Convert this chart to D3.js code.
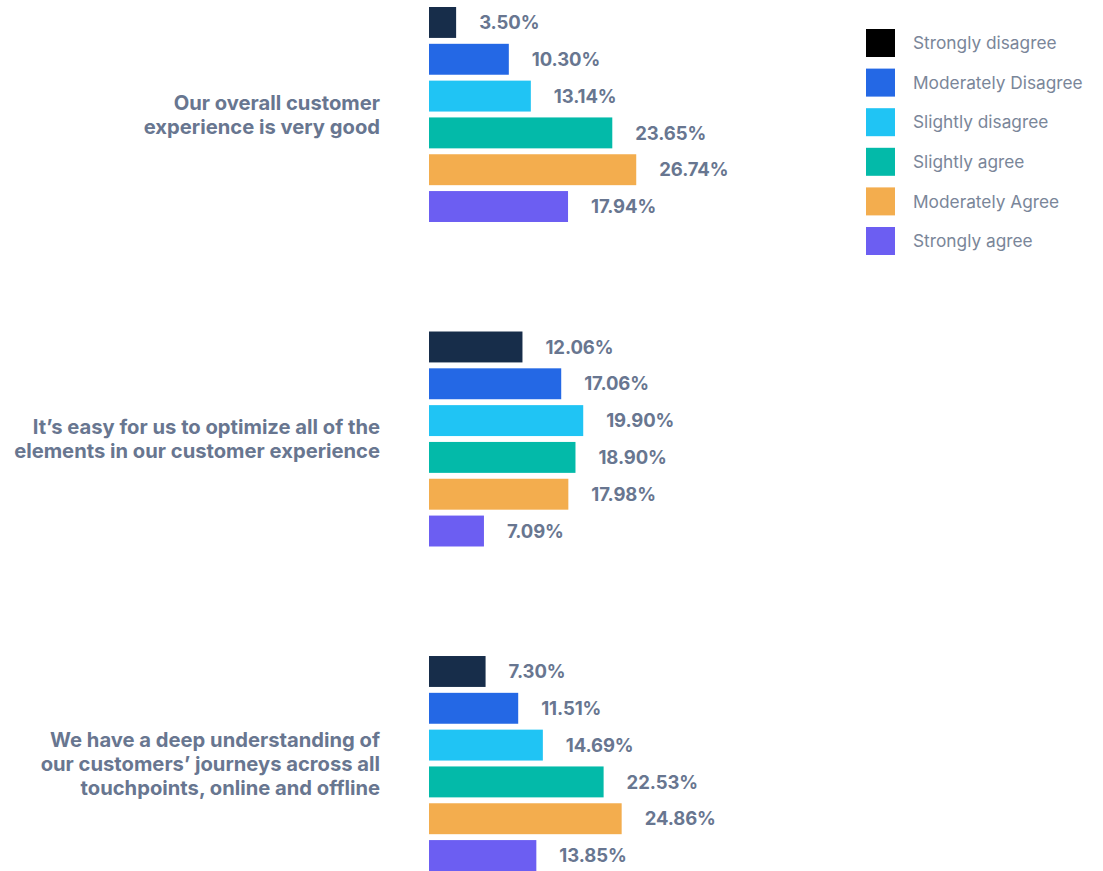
<!DOCTYPE html>
<html>
<head>
<meta charset="utf-8">
<script src="https://cdn.jsdelivr.net/npm/d3@7"></script>
<style>
  html, body { margin: 0; padding: 0; background: #ffffff; }
  svg { display: block; }
  text { font-family: Inter, "Open Sans", sans-serif; }
</style>
</head>
<body>
<svg id="chart" width="1103" height="871"></svg>
<script>
// Survey statements (each drawn as wrapped lines to the left of its group)
const statements = [
  "Our overall customer experience is very good",
  "It’s easy for us to optimize all of the elements in our customer experience",
  "We have a deep understanding of our customers’ journeys across all touchpoints, online and offline"
];
const statementLines = [
  ["Our overall customer", "experience is very good"],
  ["It’s easy for us to optimize all of the", "elements in our customer experience"],
  ["We have a deep understanding of", "our customers’ journeys across all", "touchpoints, online and offline"]
];

// Response scale
const responses = [
  "Strongly disagree",
  "Moderately Disagree",
  "Slightly disagree",
  "Slightly agree",
  "Moderately Agree",
  "Strongly agree"
];

// Share of respondents (%) per response, one array per statement
const overallGood   = [3.50, 10.30, 13.14, 23.65, 26.74, 17.94];
const easyOptimize  = [12.06, 17.06, 19.90, 18.90, 17.98, 7.09];
const deepJourneys  = [7.30, 11.51, 14.69, 22.53, 24.86, 13.85];
const seriesValues = [overallGood, easyOptimize, deepJourneys];

const barColors    = ["#172d4a", "#2468e5", "#20c4f4", "#03baa9", "#f3ad4e", "#6c5ef2"];
const legendColors = ["#000000", "#2468e5", "#20c4f4", "#03baa9", "#f3ad4e", "#6c5ef2"];

const svg = d3.select("#chart");

const x = d3.scaleLinear().domain([0, 30]).range([429, 429 + 232.5]);

const yGroup = d3.scaleBand()
  .domain(statements)
  .range([7, 871])
  .paddingInner(0.3375)
  .paddingOuter(0);

const yBar = d3.scaleBand()
  .domain(responses)
  .range([0, yGroup.bandwidth()])
  .paddingInner(0.16)
  .paddingOuter(0);

const labelColor = "#687690";

statements.forEach((stmt, gi) => {
  const g = svg.append("g").attr("transform", `translate(0,${yGroup(stmt)})`);
  const rows = responses.map((r, i) => ({ response: r, value: seriesValues[gi][i], color: barColors[i] }));

  g.selectAll("rect")
    .data(rows)
    .join("rect")
    .attr("x", x(0))
    .attr("y", d => yBar(d.response))
    .attr("width", d => x(d.value) - x(0))
    .attr("height", yBar.bandwidth())
    .attr("fill", d => d.color);

  g.selectAll("text.value")
    .data(rows)
    .join("text")
    .attr("class", "value")
    .attr("x", d => x(d.value) + 23)
    .attr("y", d => yBar(d.response) + yBar.bandwidth() / 2)
    .attr("dy", "0.36em")
    .attr("fill", labelColor)
    .attr("font-size", 18.5)
    .attr("font-weight", 700)
    .attr("letter-spacing", -0.1)
    .text(d => d.value.toFixed(2) + "%");

  // Statement label, vertically centred on the group
  const lines = statementLines[gi];
  const lineH = 24;
  const cy = yGroup.bandwidth() / 2;
  const label = g.append("text")
    .attr("text-anchor", "end")
    .attr("fill", labelColor)
    .attr("font-size", 20.2)
    .attr("font-weight", 700);
  lines.forEach((ln, li) => {
    label.append("tspan")
      .attr("x", 380)
      .attr("y", cy + (li - (lines.length - 1) / 2) * lineH)
      .attr("dy", "0.36em")
      .text(ln);
  });
});

// Legend
const legendY = d3.scalePoint().domain(responses).range([43, 241]);
const legend = svg.append("g");
const items = legend.selectAll("g")
  .data(responses)
  .join("g")
  .attr("transform", d => `translate(866,${legendY(d)})`);
items.append("rect")
  .attr("x", 0)
  .attr("y", -14)
  .attr("width", 29)
  .attr("height", 28)
  .attr("fill", (d, i) => legendColors[i]);
items.append("text")
  .attr("x", 47)
  .attr("y", 0)
  .attr("dy", "0.36em")
  .attr("fill", "#7a8699")
  .attr("font-size", 17.3)
  .text(d => d);
</script>
</body>
</html>
